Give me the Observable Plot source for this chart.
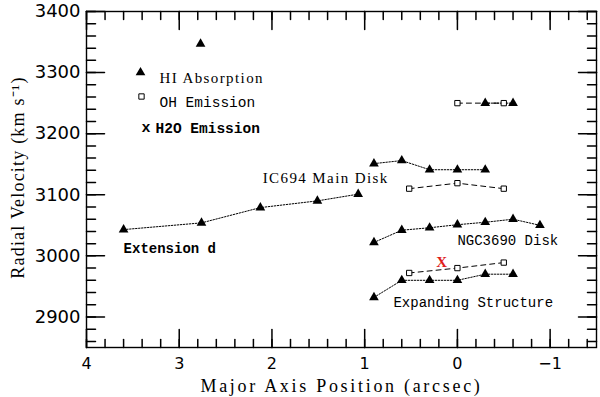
<!DOCTYPE html>
<html><head><meta charset="utf-8">
<script src="https://cdn.jsdelivr.net/npm/d3@7"></script>
<script src="https://cdn.jsdelivr.net/npm/@observablehq/plot@0.6"></script>
<style>
body{margin:0;background:#fff}
svg{display:block}
</style>
</head><body><div id="chart"></div>
<script>
// ---- data (major axis position in arcsec, radial velocity in km/s) ----
const hiExtX = [3.60, 2.76, 2.125, 1.51, 1.07];
const hiExtV = [3043, 3054, 3079, 3090, 3101];
const hiLoneX = [2.77];
const hiLoneV = [3347];
const hiUpperX = [0.90, 0.60, 0.30, 0.00, -0.30];
const hiUpperV = [3151, 3156, 3141, 3141, 3141];
const hiTopX = [-0.30, -0.60];
const hiTopV = [3250, 3250];
const hiNgcX = [0.90, 0.60, 0.30, 0.00, -0.30, -0.60, -0.89];
const hiNgcV = [3022, 3042, 3046, 3051, 3055, 3060, 3050];
const hiExpX = [0.90, 0.60, 0.30, 0.00, -0.30, -0.60];
const hiExpV = [2932, 2960, 2960, 2960, 2970, 2970];

const ohTopX = [0.00, -0.50];
const ohTopV = [3250, 3250];
const ohMidX = [0.52, 0.00, -0.50];
const ohMidV = [3110, 3119, 3110];
const ohLowX = [0.52, 0.00, -0.50];
const ohLowV = [2972, 2980, 2989];

const h2oX = [0.17];
const h2oV = [2989];

const labelText = ["IC694 Main Disk", "Extension d", "NGC3690 Disk", "Expanding Structure"];
const labelX = [2.10, 3.60, 0.00, 0.69];
const labelV = [3127, 3012, 3025, 2924];
const labelStyle = ["serif", "bold", "mono", "mono"];

const legendText = ["HI Absorption", "OH Emission", "H2O Emission"];

const xDomain = [4, -1.5];
const yDomain = [2850, 3400];
const xMajor = [4, 3, 2, 1, 0, -1];
const xMinor = d3.range(-7, 21).map(i => i / 5);
const yMajor = [2900, 3000, 3100, 3200, 3300, 3400];
const yMinor = d3.range(2860, 3401, 20);

// ---- build tables ----
const rows = (xs, vs, g) => xs.map((x, i) => ({x, v: vs[i], g}));
const hiLines = [...rows(hiExtX, hiExtV, "ext"), ...rows(hiUpperX, hiUpperV, "up"), ...rows(hiTopX, hiTopV, "top"),
                 ...rows(hiNgcX, hiNgcV, "ngc"), ...rows(hiExpX, hiExpV, "exp")];
const hiAll = [...hiLines, ...rows(hiLoneX, hiLoneV, "lone")];
const ohAll = [...rows(ohTopX, ohTopV, "top"), ...rows(ohMidX, ohMidV, "mid"), ...rows(ohLowX, ohLowV, "low")];
const h2o = rows(h2oX, h2oV, "h2o");
const labels = labelText.map((t, i) => ({t, x: labelX[i], v: labelV[i], s: labelStyle[i]}));

const serif = "Liberation Serif, Times New Roman, serif";
const mono = "Liberation Mono, Courier New, monospace";
const sans = "DejaVu Sans, sans-serif";

const W = 600, H = 397, mL = 86, mR = 4, mT = 11, mB = 50;
const pxPerX = (W - mL - mR) / Math.abs(xDomain[0] - xDomain[1]);
const pxPerY = (H - mT - mB) / Math.abs(yDomain[1] - yDomain[0]);

// inward tick marks as two-point segments (tick length in px converted to data units)
const tickSegs = [];
const addX = (vals, len, side) => vals.forEach((t, i) => {
  const base = side === "bottom" ? yDomain[0] : yDomain[1];
  const tip = side === "bottom" ? base + len / pxPerY : base - len / pxPerY;
  const g = "x" + side + len + "-" + i;
  tickSegs.push({x: t, v: base, g}, {x: t, v: tip, g});
});
const addY = (vals, len, side) => vals.forEach((t, i) => {
  const base = side === "left" ? xDomain[0] : xDomain[1];
  const tip = side === "left" ? base - len / pxPerX : base + len / pxPerX;
  const g = "y" + side + len + "-" + i;
  tickSegs.push({x: base, v: t, g}, {x: tip, v: t, g});
});
addX(xMinor, 8, "bottom"); addX(xMajor, 18, "bottom");
addX(xMinor, 8, "top"); addX(xMajor, 18, "top");
addY(yMinor, 9, "left"); addY(yMajor, 18, "left");
addY(yMinor, 9, "right"); addY(yMajor, 18, "right");

const chart = Plot.plot({
  width: W, height: H,
  marginLeft: mL, marginRight: mR, marginTop: mT, marginBottom: mB,
  x: {domain: xDomain},
  y: {domain: yDomain},
  marks: [
    Plot.frame({stroke: "black", strokeWidth: 1.4}),
    // tick labels
    Plot.axisX(xMajor, {anchor: "bottom", tickSize: 0, tickPadding: 10, label: null, tickFormat: d => d < 0 ? "\u2212" + Math.abs(d) : String(d), fontSize: 16, fontFamily: sans}),
    Plot.axisY(yMajor, {anchor: "left", tickSize: 0, tickPadding: 6, label: null, tickFormat: d => String(d), fontSize: 18, fontFamily: sans}),
    // axis titles
    Plot.text(["Major Axis Position (arcsec)"], {frameAnchor: "bottom", dy: 39, textAnchor: "middle", lineAnchor: "middle", fontSize: 18, fontFamily: serif, fill: "black"}),
    Plot.text(["Radial Velocity (km s\u207B\u00B9)"], {frameAnchor: "left", dx: -68, dy: -2, rotate: -90, textAnchor: "middle", lineAnchor: "middle", fontSize: 18, fontFamily: serif, fill: "black"}),
    // connecting lines
    Plot.line(hiLines, {x: "x", y: "v", z: "g", stroke: "black", strokeWidth: 1, strokeDasharray: "1.5,1.5"}),
    Plot.line(ohAll, {x: "x", y: "v", z: "g", stroke: "black", strokeWidth: 1, strokeDasharray: "5,4"}),
    // markers
    Plot.dot(hiAll, {x: "x", y: "v", symbol: "triangle", r: 3.6, fill: "black", stroke: null}),
    Plot.dot(ohAll, {x: "x", y: "v", symbol: "square", r: 3, fill: "white", stroke: "black", strokeWidth: 1}),
    Plot.text(h2o, {x: "x", y: "v", text: () => "X", fill: "#e0201a", fontSize: 15, fontWeight: "bold", fontFamily: serif}),
    // annotations
    Plot.text(labels.filter(d => d.s === "serif"), {x: "x", y: "v", text: "t", textAnchor: "start", fontSize: 15, fontFamily: serif, fill: "black"}),
    Plot.text(labels.filter(d => d.s === "mono"), {x: "x", y: "v", text: "t", textAnchor: "start", fontSize: 14, fontFamily: mono, fill: "black"}),
    Plot.text(labels.filter(d => d.s === "bold"), {x: "x", y: "v", text: "t", textAnchor: "start", fontSize: 14, fontWeight: "bold", fontFamily: mono, fill: "black"}),
    // legend
    Plot.dot([legendText[0]], {frameAnchor: "top-left", dx: 54, dy: 61, symbol: "triangle", r: 3.6, fill: "black", stroke: null}),
    Plot.dot([legendText[1]], {frameAnchor: "top-left", dx: 55, dy: 85, symbol: "square", r: 3, fill: "white", stroke: "black", strokeWidth: 1}),
    Plot.text(["x"], {frameAnchor: "top-left", dx: 55, dy: 110, fontSize: 15, fontWeight: "bold", fontFamily: mono, fill: "black"}),
    Plot.text([legendText[0]], {frameAnchor: "top-left", dx: 73, dy: 61, textAnchor: "start", fontSize: 15, fontFamily: serif, fill: "black"}),
    Plot.text([legendText[1]], {frameAnchor: "top-left", dx: 73, dy: 85, textAnchor: "start", fontSize: 14.5, fontFamily: mono, fill: "black"}),
    Plot.text([legendText[2]], {frameAnchor: "top-left", dx: 69, dy: 111, textAnchor: "start", fontSize: 14.5, fontWeight: "bold", fontFamily: mono, fill: "black"}),
    // inward ticks on all four sides, drawn last
    Plot.line(tickSegs, {x: "x", y: "v", z: "g", stroke: "black", strokeWidth: 1.5})
  ]
});
document.getElementById("chart").append(chart);
// letter spacing for the serif texts
const spacing = {"Major": "2.7", "Radial": "1.2", "HI Abs": "1.4", "IC694": "1.4"};
d3.select(chart).selectAll('g[font-family^="Liberation Serif"] text').each(function() {
  for (const k in spacing) if (this.textContent.startsWith(k)) this.setAttribute("letter-spacing", spacing[k]);
});
</script>
</body></html>
